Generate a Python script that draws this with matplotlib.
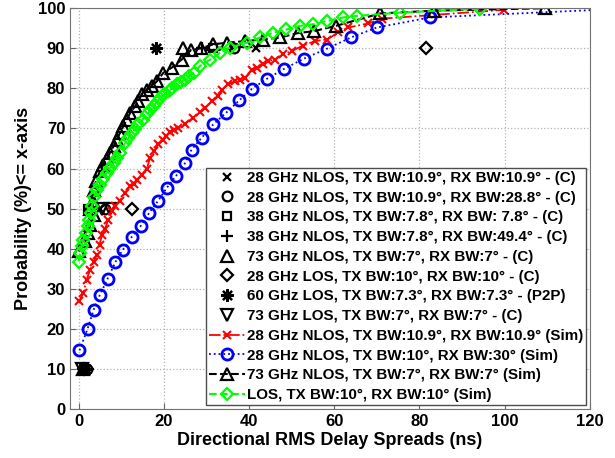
import numpy as np
import matplotlib
matplotlib.use("Agg")
import matplotlib.pyplot as plt

plt.rcParams["font.family"] = ["Liberation Sans", "DejaVu Sans"]
plt.rcParams["font.weight"] = "bold"
plt.rcParams["axes.labelweight"] = "bold"

# simulated CDFs
red_x = [0.2, 1.1, 1.9, 2.7, 3.5, 4.3, 4.9, 5.5, 6.2, 6.9, 7.8, 8.6, 9.7, 10.9, 12.1, 13.0,
         13.7, 14.8, 16.0, 16.8, 17.8, 18.7, 19.8, 20.6, 21.5, 22.4, 23.4, 25.0, 26.9, 28.5,
         29.7, 31.3, 32.8, 33.6, 35.1, 36.7, 37.9, 39.1, 40.7, 41.8, 43.3, 44.5, 46.1, 48.0,
         50.0, 52.7, 55.5, 58.3, 61.0, 63.3, 68.0, 71.2, 99.8]
red_y = [27.0, 29.0, 32.3, 34.8, 36.8, 38.5, 41.0, 43.5, 44.8, 47.2, 49.5, 50.6, 52.0, 54.0,
         55.6, 56.2, 57.2, 58.5, 60.0, 62.7, 64.5, 66.0, 67.2, 68.2, 69.0, 69.5, 70.2, 71.2,
         72.7, 74.0, 75.2, 76.8, 78.0, 79.7, 81.0, 81.8, 82.2, 82.7, 84.7, 85.2, 86.0, 86.8,
         87.2, 88.5, 89.3, 90.7, 91.8, 92.2, 94.0, 95.2, 96.2, 97.4, 99.6]

blue_x = [0.2, 2.1, 3.5, 5.0, 6.8, 8.6, 10.3, 12.5, 14.6, 16.6, 18.7, 20.7, 22.9, 25.0, 26.5,
          28.9, 31.6, 34.6, 37.7, 40.7, 44.2, 48.1, 52.8, 58.3, 63.9, 70.0, 82.5, 130.0]
blue_y = [14.6, 20.0, 24.7, 28.5, 32.5, 36.6, 39.6, 43.0, 45.7, 49.0, 52.0, 55.2, 58.2, 61.4,
          64.7, 67.7, 71.0, 73.9, 77.0, 79.9, 82.4, 84.8, 87.4, 89.9, 92.7, 95.2, 97.7, 100.0]

black_x = [0.0, 1.5, 2.3, 2.7, 3.5, 3.3, 3.5, 4.1, 5.0, 5.8, 6.6, 7.4, 8.2, 9.0, 9.7, 10.5,
           11.3, 12.1, 13.3, 14.0, 14.8, 16.0, 17.2, 18.4, 19.9, 21.9, 24.2, 26.4, 28.7,
           31.6, 34.8, 39.1, 43.3, 47.3, 51.5, 55.3, 60.4, 70.8, 83.5, 109.5]
black_y = [39.3, 41.8, 43.9, 46.0, 48.5, 52.0, 54.7, 57.0, 59.3, 61.0, 62.5, 64.0, 65.6, 67.2,
           68.9, 70.6, 72.2, 73.9, 75.6, 76.8, 78.5, 79.7, 80.6, 81.8, 83.9, 85.2, 87.2, 89.6,
           90.0, 91.0, 91.4, 91.8, 92.2, 92.7, 93.8, 94.3, 95.6, 98.7, 99.4, 100.0]

green_x = [0.0, 0.4, 0.7, 1.1, 1.8, 2.1, 2.5, 2.9, 3.1, 3.6, 4.3, 5.0, 5.8, 6.6, 7.4, 8.2,
           9.0, 9.7, 10.9, 11.7, 12.5, 13.3, 14.0, 15.0, 16.0, 16.8, 17.6, 18.4, 19.1, 20.1,
           21.1, 22.0, 23.0, 24.0, 25.0, 26.0, 27.0, 28.5, 30.9, 33.2, 35.6, 39.5, 42.6,
           45.7, 48.8, 52.0, 55.1, 58.3, 62.1, 65.3, 75.5, 94.2]
green_y = [36.8, 38.9, 40.6, 42.2, 43.9, 45.6, 47.2, 48.9, 50.6, 53.0, 54.7, 56.0, 57.5, 59.0,
           60.2, 61.4, 62.7, 63.9, 66.4, 67.6, 68.9, 69.9, 71.0, 72.2, 73.5, 74.5, 75.6, 76.6,
           77.7, 78.5, 79.3, 80.1, 81.0, 81.6, 82.2, 83.0, 83.9, 85.6, 87.2, 88.9, 90.2, 91.4,
           92.7, 93.9, 94.7, 95.6, 96.0, 96.8, 97.7, 98.1, 98.9, 99.9]

# measured 10/50/90 percent points
meas_p = [10, 50, 90]
nlos28_a = [1.5, 5.0, 41.6]
nlos28_b = [2.0, 6.2, 36.5]
nlos38_a = [1.2, 2.3, 31.6]
nlos38_b = [2.3, 3.0, 29.0]
nlos73 = [1.0, 2.7, 24.4]
los28 = [1.3, 12.5, 81.5]
los60 = [1.8, 18.2]
los60_p = [10, 90]
los73 = [0.8, 5.5, 7.4]
los73_p = [10, 50, 50]

fig = plt.figure(figsize=(6.15, 4.58), dpi=100)
ax = fig.add_axes([0.114, 0.107, 0.845, 0.875])

ms = dict(color="k", linestyle="none", markerfacecolor="none", markeredgewidth=1.6)
ax.plot(nlos28_a, meas_p, marker="x", markersize=6, label="28 GHz NLOS, TX BW:10.9°, RX BW:10.9° - (C)", **ms)
ax.plot(nlos28_b, meas_p, marker="o", markersize=7, label="28 GHz NLOS, TX BW:10.9°, RX BW:28.8° - (C)", **ms)
ax.plot(nlos38_a, meas_p, marker="s", markersize=6, label="38 GHz NLOS, TX BW:7.8°, RX BW: 7.8° - (C)", **ms)
ax.plot(nlos38_b, meas_p, marker="+", markersize=8, label="38 GHz NLOS, TX BW:7.8°, RX BW:49.4° - (C)", **ms)
ax.plot(nlos73, meas_p, marker="^", markersize=8, label="73 GHz NLOS, TX BW:7°, RX BW:7° - (C)", **ms)
ax.plot(los28, meas_p, marker="D", markersize=6, label="28 GHz LOS, TX BW:10°, RX BW:10° - (C)", **ms)
ax.plot(los60, los60_p, marker=(8, 2, 0), markersize=9, label="60 GHz LOS, TX BW:7.3°, RX BW:7.3° - (P2P)", **ms)
ax.plot(los73, los73_p, marker="v", markersize=8, label="73 GHz LOS, TX BW:7°, RX BW:7° - (C)", **ms)

ax.plot(red_x, red_y, color="red", linestyle="-.", marker="x", markersize=6, markeredgewidth=1.5,
        linewidth=1.3, label="28 GHz NLOS, TX BW:10.9°, RX BW:10.9° (Sim)")
ax.plot(blue_x, blue_y, color="blue", linestyle=":", marker="o", markersize=8, markeredgewidth=2,
        markerfacecolor="none", linewidth=1.3, label="28 GHz NLOS, TX BW:10°, RX BW:30° (Sim)")
ax.plot(black_x, black_y, color="k", linestyle="--", marker="^", markersize=8, markeredgewidth=1.6,
        markerfacecolor="none", linewidth=1.5, label="73 GHz NLOS, TX BW:7°, RX BW:7° (Sim)")
ax.plot(green_x, green_y, color="#00ff00", linestyle="--", marker="D", markersize=6, markeredgewidth=1.6,
        markerfacecolor="none", linewidth=1.5, label="LOS, TX BW:10°, RX BW:10° (Sim)")

ax.set_xlim(-2, 120)
ax.set_ylim(0, 100)
ax.set_xticks(np.arange(0, 121, 20))
ax.set_yticks(np.arange(0, 101, 10))
ax.grid(True, linestyle=":", color="0.7", linewidth=0.9)
ax.tick_params(direction="in", labelsize=12, length=4, color="0.4")
for s in ax.spines.values():
    s.set_color("0.45")
ax.set_xlabel("Directional RMS Delay Spreads (ns)", fontsize=13, labelpad=2)
ax.set_ylabel("Probability (%)<= x-axis", fontsize=13, labelpad=4)

leg = ax.legend(loc="lower right", fontsize=10.9, handlelength=2.4, handletextpad=0.1,
                borderpad=0.2, borderaxespad=0.25, labelspacing=0.38, fancybox=False,
                framealpha=1, edgecolor="0.3")
leg.get_frame().set_linewidth(1.0)

fig.savefig("out.png", dpi=100)
